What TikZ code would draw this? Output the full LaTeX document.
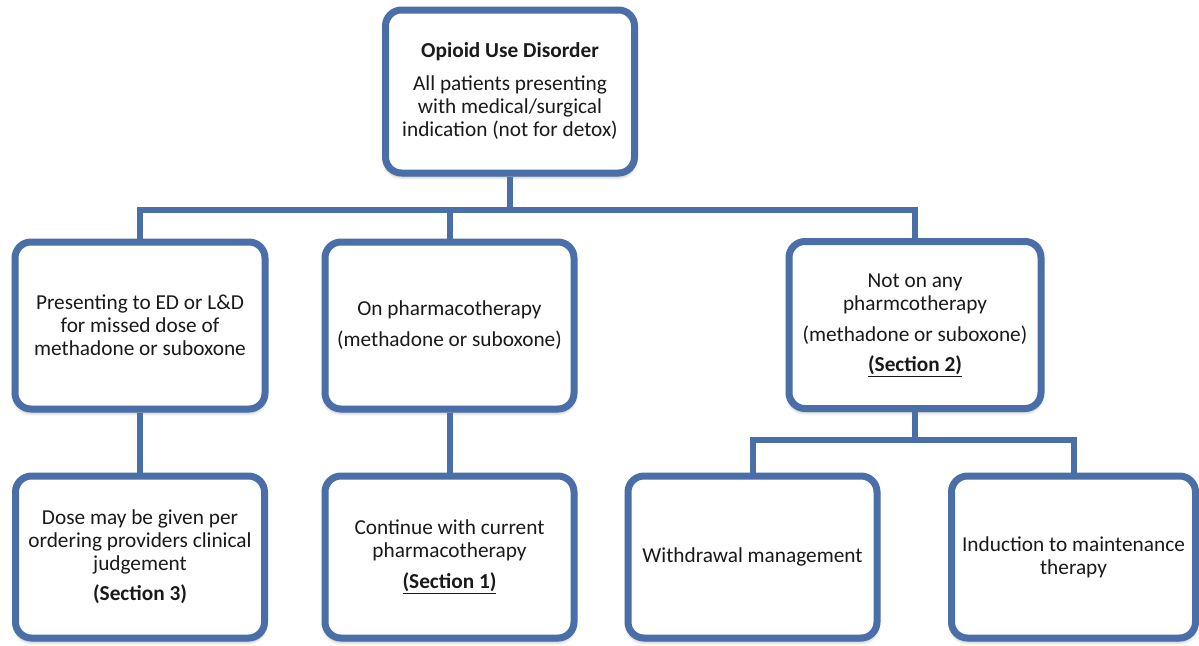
\documentclass[tikz,border=0pt]{standalone}
\usepackage{fontspec}
\setmainfont{Carlito}
\usetikzlibrary{shadows.blur}
\definecolor{boxblue}{HTML}{4A6EA8}
\definecolor{txt}{HTML}{1A1A1A}
\begin{document}
\begin{tikzpicture}[x=1pt,y=-1pt,
  box/.style={draw=boxblue, line width=7pt, rounded corners=16pt, fill=white,
    minimum width=250pt, align=center, inner sep=0pt, text=txt,
    font=\fontsize{21.3}{23}\selectfont,
    blur shadow={shadow xshift=0pt, shadow yshift=-3pt, shadow blur radius=4pt, shadow opacity=45}},
  link/.style={draw=boxblue, line width=6pt, line join=miter}]
\useasboundingbox (0,0) rectangle (1199,645);
% nodes
\node[box, minimum width=249pt, minimum height=163pt] (top) at (510,91.5)
  {\textbf{Opioid Use Disorder}\\[10pt]All patients presenting\\with medical/surgical\\indication (not for detox)};
\node[box, minimum height=167pt] (b1) at (140,325.5)
  {Presenting to ED or L\&D\\for missed dose of\\methadone or suboxone};
\node[box, minimum width=249pt, minimum height=167pt] (b2) at (449.5,325.5)
  {On pharmacotherapy\\[8pt](methadone or suboxone)};
\node[box, minimum width=252pt, minimum height=167pt] (b3) at (915,325)
  {Not on any\\pharmcotherapy\\[8pt](methadone or suboxone)\\[7pt]\underline{\textbf{(Section 2)}}};
\node[box, minimum width=249pt, minimum height=162pt] (b4) at (140,557)
  {Dose may be given per\\ordering providers clinical\\judgement\\[7pt]\textbf{(Section 3)}};
\node[box, minimum width=249pt, minimum height=162pt] (b5) at (449.5,557)
  {Continue with current\\pharmacotherapy\\[8pt]\underline{\textbf{(Section 1)}}};
\node[box, minimum width=249pt, minimum height=162pt] (b6) at (752.5,557)
  {Withdrawal management};
\node[box, minimum width=244pt, minimum height=162pt] (b7) at (1073.5,557)
  {Induction to maintenance\\therapy};
% connectors
\coordinate (j) at (510,210);
\coordinate (k) at (915,440);
\draw[link] (top.south) -- (j);
\draw[link] (b1.north) |- (j) -| (b3.north);
\draw[link] (b2.north) -- (b2.north |- j);
\draw[link] (b1.south) -- (b4.north);
\draw[link] (b2.south) -- (b5.north);
\draw[link] (b3.south) -- (k);
\draw[link] (b6.north) |- (k) -| (b7.north);
\end{tikzpicture}
\end{document}
